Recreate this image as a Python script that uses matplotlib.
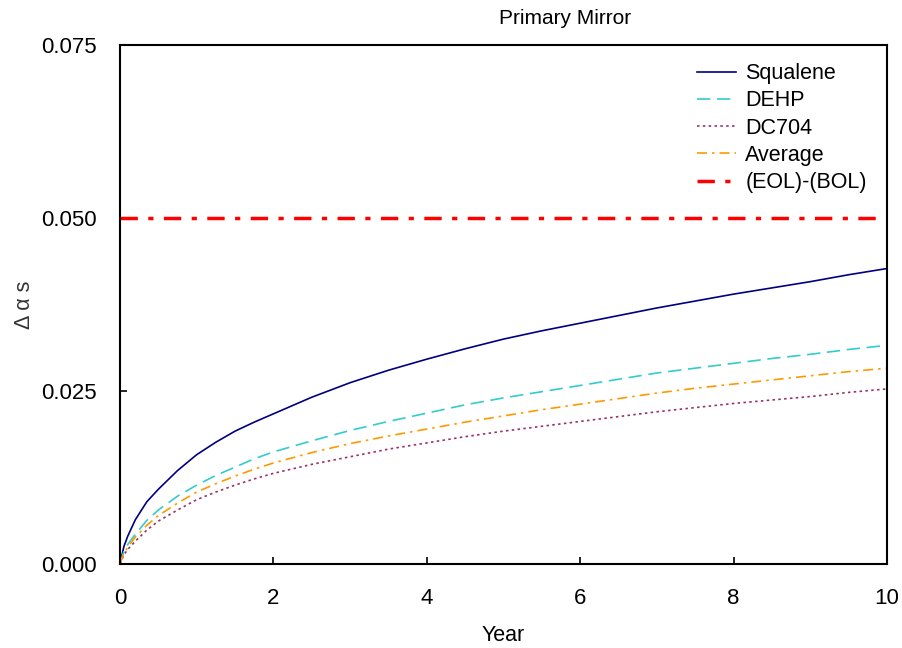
import matplotlib
matplotlib.use("Agg")
import matplotlib.pyplot as plt

plt.rcParams['font.family'] = ['Liberation Sans', 'DejaVu Sans']

# elapsed time (years) and change in solar absorptance per contaminant
years = [0, 0.05, 0.1, 0.2, 0.35, 0.5, 0.75, 1.0, 1.25, 1.5, 1.75, 2.0,
         2.5, 3.0, 3.5, 4.0, 4.5, 5.0, 5.5, 6.0, 6.5, 7.0, 7.5, 8.0,
         8.5, 9.0, 9.5, 10.0]
squalene = [0, 0.0025, 0.0040, 0.0064, 0.0090, 0.0108, 0.0135, 0.0158,
            0.0176, 0.0192, 0.0205, 0.0217, 0.0241, 0.0262, 0.0280,
            0.0296, 0.0311, 0.0325, 0.0337, 0.0348, 0.0359, 0.0370,
            0.0380, 0.0390, 0.0399, 0.0408, 0.0418, 0.0427]
dehp = [0, 0.0018, 0.0028, 0.0043, 0.0063, 0.0078, 0.0098, 0.0114,
        0.0128, 0.0140, 0.0152, 0.0162, 0.0178, 0.0193, 0.0206, 0.0218,
        0.0230, 0.0240, 0.0249, 0.0258, 0.0267, 0.0276, 0.0283, 0.0290,
        0.0297, 0.0303, 0.0310, 0.0316]
dc704 = [0, 0.0013, 0.0021, 0.0033, 0.0049, 0.0062, 0.0078, 0.0093,
         0.0104, 0.0114, 0.0123, 0.0131, 0.0144, 0.0155, 0.0166, 0.0175,
         0.0184, 0.0192, 0.0199, 0.0206, 0.0213, 0.0220, 0.0226, 0.0232,
         0.0237, 0.0242, 0.0248, 0.0253]
average = [0, 0.0015, 0.0024, 0.0039, 0.0056, 0.0070, 0.0088, 0.0104,
           0.0116, 0.0127, 0.0137, 0.0146, 0.0161, 0.0174, 0.0185, 0.0195,
           0.0205, 0.0214, 0.0223, 0.0231, 0.0239, 0.0247, 0.0254, 0.0260,
           0.0266, 0.0272, 0.0278, 0.0283]
eol_bol = 0.050

fig = plt.figure(figsize=(9.02, 6.48), dpi=100)
ax = fig.add_axes([120 / 902, 84 / 648, 767 / 902, 519 / 648])

ax.plot(years, squalene, color='#000080', lw=1.2, label='Squalene')
ax.plot(years, dehp, color='#33cccc', lw=1.2, dashes=(8, 4), label='DEHP')
ax.plot(years, dc704, color='#993366', lw=1.2, dashes=(1.5, 2), label='DC704')
ax.plot(years, average, color='#ff9900', lw=1.2, dashes=(6, 3, 1.5, 3), label='Average')
ax.axhline(eol_bol, color='#ff0000', lw=2.5, dashes=(5, 3, 1.5, 3), label='(EOL)-(BOL)')

ax.set_xlim(0, 10)
ax.set_ylim(0, 0.075)
ax.set_xticks([0, 2, 4, 6, 8, 10])
ax.set_yticks([0, 0.025, 0.05, 0.075])
ax.set_yticklabels(['0.000', '0.025', '0.050', '0.075'])
ax.tick_params(direction='in', length=5, width=1.2, labelsize=16, pad=17)
for s in ax.spines.values():
    s.set_linewidth(1.5)

ax.set_xlabel('Year', fontsize=15.5, labelpad=12)
ax.set_ylabel('Δ α s', fontsize=15.5, color='#333333', labelpad=4)
fig.text(565 / 902, 630 / 648, 'Primary Mirror', fontsize=15, ha='center', va='center')

ax.legend(loc='upper left', bbox_to_anchor=(0.752, 0.965), frameon=False,
          fontsize=15.5, handlelength=1.8, handletextpad=0.45, labelspacing=0.29,
          borderpad=0, borderaxespad=0)

fig.savefig('out.png', dpi=100)
